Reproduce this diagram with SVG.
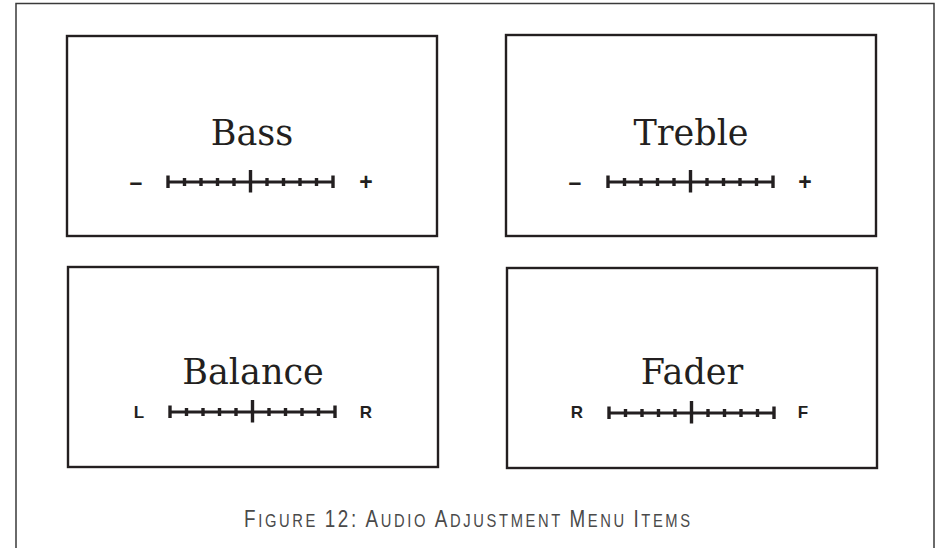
<svg xmlns="http://www.w3.org/2000/svg" xmlns:xlink="http://www.w3.org/1999/xlink" width="936" height="548" viewBox="0 0 936 548">
  <style>
    .frame { fill: none; stroke: #3a3a3a; stroke-width: 1.5; }
    .box { fill: #ffffff; stroke: #231f20; stroke-width: 2.4; }
    .title { font-family: "DejaVu Serif", "Liberation Serif", serif; font-size: 35px; fill: #231f20; text-anchor: middle; }
    .end { font-family: "Liberation Sans", Arial, sans-serif; font-weight: bold; font-size: 17px; fill: #231f20; text-anchor: middle; }
    .sym { font-family: "Liberation Sans", Arial, sans-serif; font-weight: bold; font-size: 23px; fill: #231f20; text-anchor: middle; }
    .caption { font-family: "Liberation Sans", Arial, sans-serif; fill: #4a4a4a; }
    .bar line { stroke: #231f20; }
  </style>
  <defs>
    <g id="scale" class="bar">
      <line x1="0" y1="0" x2="165" y2="0" stroke-width="3.2"/>
      <line x1="0" y1="-6.5" x2="0" y2="6" stroke-width="3.4"/>
      <line x1="165" y1="-6.5" x2="165" y2="6" stroke-width="3.4"/>
      <line x1="82.5" y1="-12" x2="82.5" y2="10.5" stroke-width="3.4"/>
      <line x1="16.5" y1="-4" x2="16.5" y2="4" stroke-width="3.4"/>
      <line x1="33" y1="-4" x2="33" y2="4" stroke-width="3.4"/>
      <line x1="49.5" y1="-4" x2="49.5" y2="4" stroke-width="3.4"/>
      <line x1="66" y1="-4" x2="66" y2="4" stroke-width="3.4"/>
      <line x1="99" y1="-4" x2="99" y2="4" stroke-width="3.4"/>
      <line x1="115.5" y1="-4" x2="115.5" y2="4" stroke-width="3.4"/>
      <line x1="132" y1="-4" x2="132" y2="4" stroke-width="3.4"/>
      <line x1="148.5" y1="-4" x2="148.5" y2="4" stroke-width="3.4"/>
    </g>
  </defs>

  <rect width="936" height="548" fill="#ffffff"/>
  <path class="frame" d="M16,548 V3.5 H934 V548"/>

  <g id="bass">
    <rect class="box" x="67" y="36" width="370" height="200"/>
    <text class="title" x="252" y="145">Bass</text>
    <text class="sym" x="136" y="190">–</text>
    <use xlink:href="#scale" href="#scale" x="168" y="182"/>
    <text class="sym" x="366" y="190">+</text>
  </g>

  <g id="treble">
    <rect class="box" x="506" y="35" width="370" height="201"/>
    <text class="title" x="691" y="145">Treble</text>
    <text class="sym" x="575" y="190">–</text>
    <use xlink:href="#scale" href="#scale" x="608" y="182"/>
    <text class="sym" x="805" y="190">+</text>
  </g>

  <g id="balance">
    <rect class="box" x="68" y="267" width="370" height="200"/>
    <text class="title" x="253" y="384">Balance</text>
    <text class="end" x="139" y="418">L</text>
    <use xlink:href="#scale" href="#scale" x="170" y="412"/>
    <text class="end" x="366" y="418">R</text>
  </g>

  <g id="fader">
    <rect class="box" x="507" y="268" width="370" height="200"/>
    <text class="title" x="692" y="384">Fader</text>
    <text class="end" x="577" y="418">R</text>
    <use xlink:href="#scale" href="#scale" x="609" y="413"/>
    <text class="end" x="803" y="418">F</text>
  </g>

  <g id="connectors"></g>

  <text class="caption" transform="scale(0.82,1)" x="297.6" y="527" textLength="544" lengthAdjust="spacing"><tspan font-size="23">F</tspan><tspan font-size="18">IGURE </tspan><tspan font-size="23">12: A</tspan><tspan font-size="18">UDIO </tspan><tspan font-size="23">A</tspan><tspan font-size="18">DJUSTMENT </tspan><tspan font-size="23">M</tspan><tspan font-size="18">ENU </tspan><tspan font-size="23">I</tspan><tspan font-size="18">TEMS</tspan></text>
</svg>
